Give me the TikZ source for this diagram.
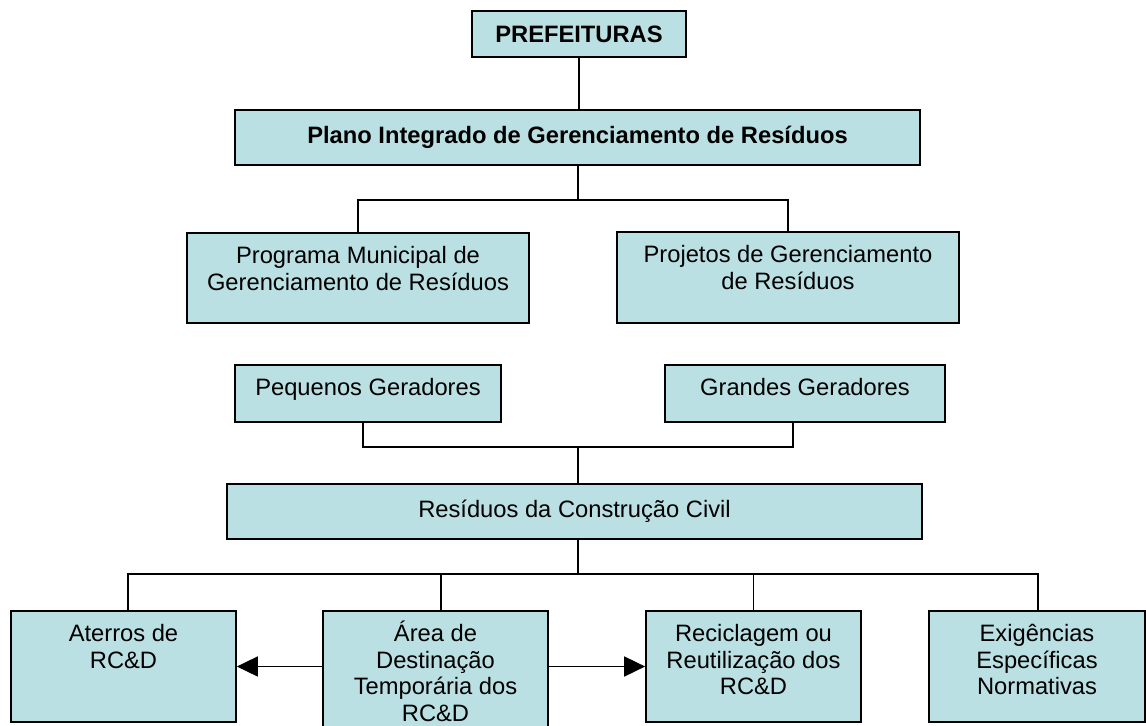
\documentclass[tikz,border=0pt]{standalone}
\usepackage{fontspec}
\setmainfont{Liberation Sans}
\usetikzlibrary{arrows.meta}
\definecolor{caixa}{RGB}{186,224,227}
\tikzset{
  bloco/.style={draw, fill=caixa, line width=1pt, inner sep=0pt, align=center,
    font=\fontsize{13.5}{15}\selectfont},
  topo/.style={label={[anchor=north, inner sep=0pt, yshift=-5.4pt, align=center,
    font=\fontsize{13.5}{15}\selectfont]north:\rule{0pt}{12.5pt}#1}},
  liga/.style={line width=1pt},
  seta/.style={line width=1pt, -{Triangle[length=0.42cm, width=0.4cm]}},
}
\begin{document}
\begin{tikzpicture}[x=0.02cm, y=-0.02cm]
\useasboundingbox (0,0) rectangle (1146,726);

\node (pref) [bloco, minimum width=4.28cm, minimum height=0.92cm, font=\fontsize{13.5}{15}\selectfont\bfseries] at (579,34) {PREFEITURAS};
\node (plano) [bloco, minimum width=13.7cm, minimum height=1.1cm, font=\fontsize{13.5}{15}\selectfont\bfseries] at (577.5,137.5) {Plano Integrado de Gerenciamento de Resíduos};

\node (prog) [bloco, minimum width=6.84cm, minimum height=1.8cm, topo={Programa Municipal de \\ Gerenciamento de Resíduos}] at (358,278) {};
\node (proj) [bloco, minimum width=6.84cm, minimum height=1.82cm, topo={Projetos de Gerenciamento \\ de Resíduos}] at (788,277.5) {};

\node (peq) [bloco, minimum width=5.32cm, minimum height=1.14cm, topo={Pequenos Geradores}] at (368,393.5) {};
\node (grand) [bloco, minimum width=5.6cm, minimum height=1.14cm, topo={Grandes Geradores}] at (805,393.5) {};

\node (resid) [bloco, minimum width=13.9cm, minimum height=1.1cm] at (574.5,511.5) {Resíduos da Construção Civil};

\node (ater) [bloco, minimum width=4.5cm, minimum height=2.22cm, topo={Aterros de \\ RC\&D}] at (123.5,666.5) {};
\node (area) [bloco, minimum width=4.5cm, minimum height=2.6cm, topo={Área de \\ Destinação \\ Temporária dos \\ RC\&D}] at (435.5,676) {};
\node (recic) [bloco, minimum width=4.3cm, minimum height=2.22cm, topo={Reciclagem ou \\ Reutilização dos \\ RC\&D}] at (753.5,666.5) {};
\node (exig) [bloco, minimum width=4.32cm, minimum height=2.22cm, topo={Exigências \\ Específicas \\ Normativas}] at (1037,666.5) {};

\coordinate (j1) at (578,200);
\coordinate (j2) at (578,447);
\coordinate (j3) at (578,574);

\draw [liga] (pref.south) -- (pref.south |- plano.north);
\draw [liga] (plano.south -| j1) -- (j1);
\draw [liga] (prog.north) |- (j1) -| (proj.north);

\draw [liga] ([xshift=-0.1cm]peq.south) |- (j2) -| ([xshift=-0.24cm]grand.south);
\draw [liga] (j2) -- (j2 |- resid.north);

\draw [liga] (resid.south -| j3) -- (j3);
\draw [liga] ([xshift=0.09cm]ater.north) |- (j3) -| ([xshift=0.02cm]exig.north);
\draw [liga] ([xshift=0.11cm]area.north) |- (j3);
\draw [liga] (recic.north) |- (j3);

\draw [seta] (area.west |- ater.east) -- (ater.east);
\draw [seta] (area.east |- recic.west) -- (recic.west);
\end{tikzpicture}
\end{document}
